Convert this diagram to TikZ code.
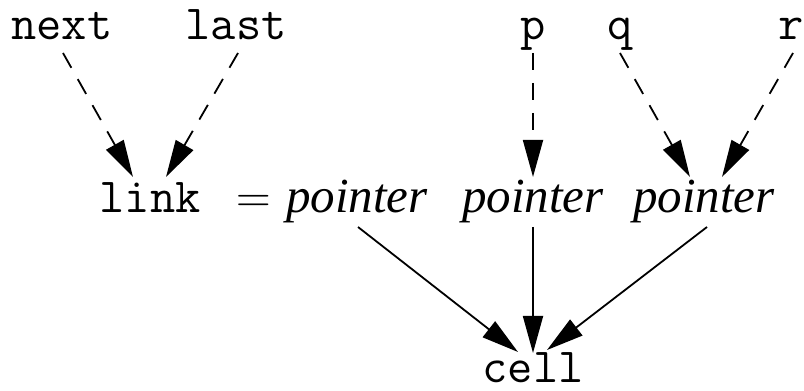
\documentclass[tikz,border=0pt]{standalone}
\usepackage{fontspec}
\newfontfamily\timesfont{Liberation Serif}
\usepackage{tikz}
\usetikzlibrary{arrows.meta}

\begin{document}
\begin{tikzpicture}[
    x=1pt, y=1pt,
    >={Triangle[length=37pt, width=20pt]},
    var/.style={inner sep=0pt, anchor=base, font=\ttfamily\fontsize{49pt}{52pt}\selectfont},
    typ/.style={inner sep=0pt, anchor=base, font=\timesfont\itshape\fontsize{49pt}{52pt}\selectfont},
    alias/.style={->, line width=1.8pt, dash pattern=on 17pt off 13pt},
    ref/.style={->, line width=1.8pt},
]
    \useasboundingbox (0,0) rectangle (804,391);
    % variables
    \node[var] (next) at (62,351) {next};
    \node[var] (last) at (236,351) {last};
    \node[var] (p) at (533,351) {p};
    \node[var] (q) at (620,351) {q};
    \node[var] (r) at (791,351) {r};
    % types
    \node[var] (link) at (150,178) {link};
    \node[inner sep=0pt, anchor=base, font=\fontsize{48pt}{52pt}\selectfont] (eq) at (254,178) {=};
    \node[typ] (ptra) at (357,178) {pointer};
    \node[typ] (ptrb) at (533,178) {pointer};
    \node[typ] (ptrc) at (704,178) {pointer};
    \node[var] (cell) at (533,8) {cell};
    % dashed arrows
    \draw[alias] ([shift={(1,-13)}]next.base) -- ([shift={(-17,36)}]link.base);
    \draw[alias] ([shift={(2,-13)}]last.base) -- ([shift={(16,36)}]link.base);
    \draw[alias] ([shift={(0,-13)}]p.base) -- ([shift={(0,36)}]ptrb.base);
    \draw[alias] ([shift={(0,-13)}]q.base) -- ([shift={(-14,36)}]ptrc.base);
    \draw[alias] ([shift={(2,-13)}]r.base) -- ([shift={(18,36)}]ptrc.base);
    % solid arrows
    \draw[ref] ([shift={(1,-14)}]ptra.base) -- ([shift={(-15,31)}]cell.base);
    \draw[ref] ([shift={(0,-14)}]ptrb.base) -- ([shift={(0,30)}]cell.base);
    \draw[ref] ([shift={(3,-14)}]ptrc.base) -- ([shift={(14,33)}]cell.base);
\end{tikzpicture}
\end{document}
